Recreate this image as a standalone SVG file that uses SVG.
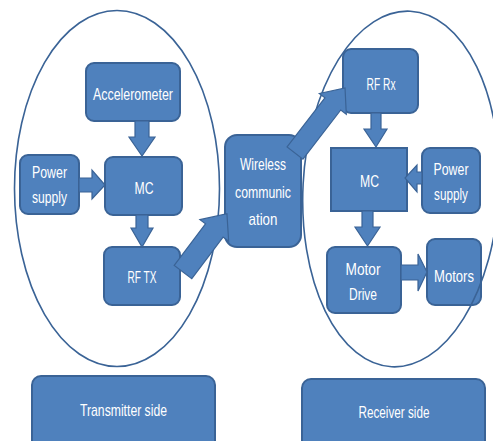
<svg xmlns="http://www.w3.org/2000/svg" width="493" height="441" viewBox="0 0 493 441">
<style>
.box{fill:#4F81BD;stroke:#3A6396;stroke-width:2}
.ring{fill:none;stroke:#3A6396;stroke-width:1.6}
.arr{fill:#4F81BD;stroke:#3A6396;stroke-width:1.2;stroke-linejoin:miter}
text{font-family:"Liberation Sans Narrow","Liberation Sans",Arial,sans-serif;font-size:17px;fill:#FFFFFF;text-anchor:middle}
</style>
<rect width="493" height="441" fill="#FFFFFF"/>
<g id="accelerometer"><rect class="box" x="86" y="63" width="94" height="58" rx="8"/><text x="133" y="100" textLength="80" lengthAdjust="spacingAndGlyphs">Accelerometer</text></g>
<g id="power-supply-tx"><rect class="box" x="20" y="155" width="59" height="59" rx="8"/><text x="49.5" y="178" textLength="35" lengthAdjust="spacingAndGlyphs">Power</text><text x="49.5" y="203" textLength="35" lengthAdjust="spacingAndGlyphs">supply</text></g>
<g id="mc-tx"><rect class="box" x="105" y="157" width="77" height="58" rx="8"/><text x="144" y="194" textLength="19" lengthAdjust="spacingAndGlyphs">MC</text></g>
<g id="rf-tx"><rect class="box" x="104" y="247" width="76" height="58" rx="8"/><text x="142" y="283" textLength="29" lengthAdjust="spacingAndGlyphs">RF TX</text></g>
<g id="wireless"><rect class="box" x="225" y="135" width="76" height="112" rx="12"/><text x="263" y="170" textLength="46" lengthAdjust="spacingAndGlyphs">Wireless</text><text x="263" y="198" textLength="56" lengthAdjust="spacingAndGlyphs">communic</text><text x="263" y="225" textLength="29" lengthAdjust="spacingAndGlyphs">ation</text></g>
<g id="rf-rx"><rect class="box" x="343" y="49" width="75" height="64" rx="8"/><text x="381" y="90" textLength="29" lengthAdjust="spacingAndGlyphs">RF Rx</text></g>
<g id="mc-rx"><rect class="box" x="331" y="148" width="76" height="63"/><text x="369.5" y="187" textLength="19" lengthAdjust="spacingAndGlyphs">MC</text></g>
<g id="power-supply-rx"><rect class="box" x="422" y="148" width="58" height="65" rx="8"/><text x="451" y="175" textLength="35" lengthAdjust="spacingAndGlyphs">Power</text><text x="451" y="200" textLength="34" lengthAdjust="spacingAndGlyphs">supply</text></g>
<g id="motor-drive"><rect class="box" x="327" y="247" width="74" height="66" rx="8"/><text x="363" y="275" textLength="35" lengthAdjust="spacingAndGlyphs">Motor</text><text x="363" y="300" textLength="28" lengthAdjust="spacingAndGlyphs">Drive</text></g>
<g id="motors"><rect class="box" x="427" y="239" width="54" height="66" rx="8"/><text x="454" y="282" textLength="40" lengthAdjust="spacingAndGlyphs">Motors</text></g>
<g id="transmitter-boundary"><ellipse class="ring" cx="117" cy="188.5" rx="102.5" ry="178"/></g>
<g id="receiver-boundary"><ellipse class="ring" cx="401" cy="189" rx="98" ry="178" transform="rotate(3 401 189)"/></g>
<g id="connectors">
<polygon class="arr" points="135,121 149,121 149,137 155,137 142,156 129,137 135,137"/>
<polygon class="arr" points="79,178 92,178 92,170 105,185 92,199 92,192 79,192"/>
<polygon class="arr" points="136,215 148,215 148,228 153,228 142,247 131,228 136,228"/>
<polygon class="arr" points="0,-11 52,-11 52,-18 73,0 52,18 52,11 0,11" transform="translate(183,272) rotate(-53)"/>
<polygon class="arr" points="0,-10 62,-10 62,-17 82,0 62,17 62,10 0,10" transform="translate(295,153) rotate(-52.4)"/>
<polygon class="arr" points="371,113 381,113 381,129 387,129 376,147 364,129 371,129"/>
<polygon class="arr" points="422,172 417,172 417,165 405,178 417,192 417,184 422,184"/>
<polygon class="arr" points="362,211 373,211 373,227 380,227 367.5,246 355,227 362,227"/>
<polygon class="arr" points="401,265 418,265 418,254 427,272 418,291 418,280 401,280"/>
</g>
<g id="transmitter-side"><rect class="box" x="32" y="376" width="183" height="80" rx="9"/><text x="123.5" y="416" textLength="87" lengthAdjust="spacingAndGlyphs">Transmitter side</text></g>
<g id="receiver-side"><rect class="box" x="302" y="379" width="183" height="80" rx="9"/><text x="394" y="418" textLength="71" lengthAdjust="spacingAndGlyphs">Receiver side</text></g>
</svg>
